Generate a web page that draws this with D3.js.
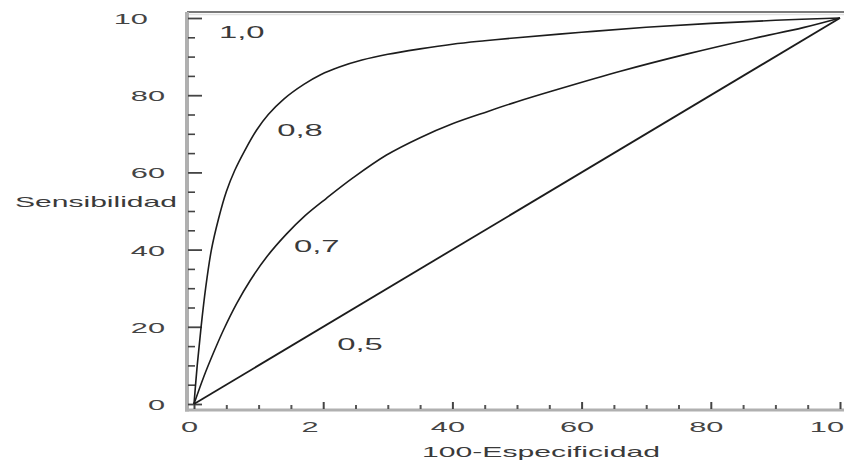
<!DOCTYPE html>
<html>
<head>
<meta charset="utf-8">
<script src="https://cdn.jsdelivr.net/npm/d3@7"></script>
<style>
  html, body { margin: 0; padding: 0; background: #fff; }
  svg { display: block; font-family: "Liberation Sans", Arial, sans-serif; }
</style>
</head>
<body>
<svg id="chart" width="844" height="464"></svg>
<script>
// ---- data ----
const xTickValues = [0, 20, 40, 60, 80, 100];
const xTickLabels = ["0", "2", "40", "60", "80", "10"];
const yTickValues = [0, 20, 40, 60, 80, 100];
const yTickLabels = ["0", "20", "40", "60", "80", "10"];

const xTitle = "100-Especificidad";
const yTitle = "Sensibilidad";

// ROC curve AUC 0.8 (steep curve): [100-specificity, sensitivity]
const curve08 = [
  [0, 0], [0.5, 10], [1.1, 20], [1.8, 30], [2.7, 40], [3.8, 48], [5.0, 55],
  [6.3, 60.5], [7.9, 65.8], [9.7, 71], [11.5, 75], [13.9, 79], [17, 82.8],
  [19.6, 85.3], [22.5, 87.3], [26, 89.1], [30, 90.6], [35, 92], [40, 93.2],
  [45, 94.1], [50, 94.9], [60, 96.3], [70, 97.6], [80, 98.6], [90, 99.4], [100, 100]
];
// ROC curve AUC 0.7 (middle curve)
const curve07 = [
  [0, 0], [1.5, 7], [3, 13.2], [4.6, 19.3], [6.6, 26], [8.7, 32], [11.3, 38.2],
  [14.3, 44], [17.2, 48.8], [20.5, 53.3], [24.7, 58.7], [29.8, 64.5], [35, 69],
  [40, 72.6], [45.5, 75.8], [50, 78.3], [55.7, 81.2], [66, 86.2], [76.4, 90.7],
  [86.6, 94.7], [94.3, 97.5], [100, 100]
];
// ROC curve AUC 0.5 (chance diagonal)
const curve05 = [[0, 0], [100, 100]];

const curveNames = ["1,0", "0,8", "0,7", "0,5"];
// annotation anchors in data units (100-specificity, sensitivity)
const curveLabelX = [7.4, 16.4, 19.0, 25.7];
const curveLabelY = [96.2, 71.0, 40.8, 15.5];

// ---- layout ----
const W = 844, H = 464;
const frameLeft = 187, frameTop = 12, frameBottom = 410;
const SX = 2.05; // horizontal stretch of the lettering

const svg = d3.select("#chart");
svg.append("rect").attr("width", W).attr("height", H).attr("fill", "#fff");

const x = d3.scaleLinear().domain([0, 100]).range([194, 840]);
const y = d3.scaleLinear().domain([0, 100]).range([404, 18]);

// frame
svg.append("line").attr("x1", frameLeft).attr("x2", W).attr("y1", frameTop).attr("y2", frameTop)
  .attr("stroke", "#7a7a7a").attr("stroke-width", 2);
svg.append("line").attr("x1", frameLeft).attr("x2", W).attr("y1", frameTop + 2.5).attr("y2", frameTop + 2.5)
  .attr("stroke", "#e2e2e2").attr("stroke-width", 1.5);
svg.append("line").attr("x1", frameLeft).attr("x2", frameLeft).attr("y1", frameTop).attr("y2", frameBottom + 1.5)
  .attr("stroke", "#b0b0b0").attr("stroke-width", 4);
svg.append("line").attr("x1", frameLeft - 2).attr("x2", W).attr("y1", frameBottom).attr("y2", frameBottom)
  .attr("stroke", "#b0b0b0").attr("stroke-width", 3);

const minorVals = d3.range(0, 101, 5).filter(v => v % 20 !== 0);

// y minor ticks
const yMinor = svg.append("g").attr("transform", `translate(${frameLeft + 1},0)`)
  .call(d3.axisRight(y).tickValues(minorVals).tickSize(7).tickFormat(""));
yMinor.select(".domain").remove();
yMinor.selectAll(".tick line").attr("stroke", "#444").attr("stroke-width", 1.6);

// y major ticks + labels
const yMajor = svg.append("g").attr("transform", `translate(${frameLeft + 1},0)`)
  .call(d3.axisLeft(y).tickValues(yTickValues).tickSize(-14)
    .tickFormat((d, i) => yTickLabels[i]));
yMajor.select(".domain").remove();
yMajor.selectAll(".tick line").attr("stroke", "#444").attr("stroke-width", 1.8);
yMajor.selectAll(".tick text")
  .attr("font-size", 15).attr("fill", "#444")
  .attr("text-anchor", "end")
  .attr("x", (d, i) => {
    const missing = String(d).length - yTickLabels[i].length;
    return (-23 - missing * 0.556 * 15 * SX) / SX;
  })
  .attr("dy", "0.36em")
  .attr("transform", `scale(${SX},1)`);

// x minor ticks
const xMinor = svg.append("g").attr("transform", `translate(0,${frameBottom - 1})`)
  .call(d3.axisBottom(x).tickValues(minorVals).tickSize(-4).tickFormat(""));
xMinor.select(".domain").remove();
xMinor.selectAll(".tick line").attr("stroke", "#555").attr("stroke-width", 2);

// x major ticks + labels
const xMajor = svg.append("g").attr("transform", `translate(0,${frameBottom - 1})`)
  .call(d3.axisBottom(x).tickValues(xTickValues).tickSize(-7)
    .tickFormat((d, i) => xTickLabels[i]));
xMajor.select(".domain").remove();
xMajor.selectAll(".tick line").attr("stroke", "#444").attr("stroke-width", 2);
xMajor.selectAll(".tick text")
  .attr("font-size", 15).attr("fill", "#444")
  .attr("text-anchor", "middle")
  .attr("y", 23).attr("dy", 0)
  .attr("x", (d, i) => {
    const missing = String(d).length - xTickLabels[i].length;
    return (-5 - missing * 0.5 * 0.556 * 15 * SX) / SX;
  })
  .attr("transform", `scale(${SX},1)`);

// curves
const line = d3.line().x(d => x(d[0])).y(d => y(d[1])).curve(d3.curveCatmullRom.alpha(0.5));
const series = [curve08, curve07, curve05];
svg.append("g").selectAll("path").data(series).join("path")
  .attr("d", line)
  .attr("fill", "none")
  .attr("stroke", "#1c1c1c")
  .attr("stroke-width", (d, i) => i === 2 ? 1.8 : 1.6);

// curve labels
svg.append("g").selectAll("text").data(curveNames).join("text")
  .attr("transform", (d, i) => `translate(${x(curveLabelX[i])},${y(curveLabelY[i])}) scale(${SX},1)`)
  .attr("text-anchor", "middle")
  .attr("dy", "0.36em")
  .attr("font-size", 16)
  .attr("fill", "#3a3a3a")
  .text(d => d);

// axis titles
svg.append("text")
  .attr("x", 15).attr("y", 207)
  .attr("font-size", 15).attr("fill", "#3a3a3a")
  .attr("textLength", 162).attr("lengthAdjust", "spacingAndGlyphs")
  .text(yTitle);
svg.append("text")
  .attr("x", 422).attr("y", 457)
  .attr("font-size", 15).attr("fill", "#3a3a3a")
  .attr("textLength", 238).attr("lengthAdjust", "spacingAndGlyphs")
  .text(xTitle);
</script>
</body>
</html>
